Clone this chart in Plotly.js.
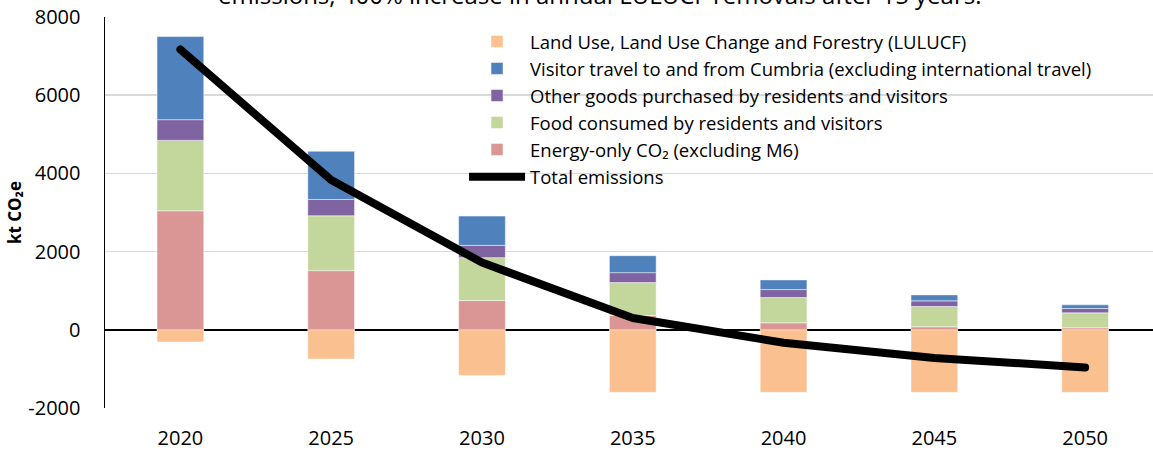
<!DOCTYPE html>
<html>
<head>
<meta charset="utf-8">
<script src="https://cdn.plot.ly/plotly-3.0.1.min.js"></script>
<style>
html,body{margin:0;padding:0;background:#fff;}
#chart{width:1153px;height:450px;}
#chart .scatterlayer .js-line{stroke-linecap:round;stroke-linejoin:round;}
</style>
</head>
<body>
<div id="chart"></div>
<script>
const years = ['2020','2025','2030','2035','2040','2045','2050'];
const energy = [3044, 1513, 748, 365, 179, 77, 51];
const food = [1800, 1403, 1097, 842, 646, 519, 383];
const otherGoods = [530, 418, 315, 255, 204, 144, 111];
const visitor = [2125, 1232, 748, 434, 247, 153, 93];
const lulucf = [-314, -748, -1166, -1600, -1600, -1600, -1600];
const total = [7170, 3830, 1720, 300, -330, -720, -962];
const yTickVals = [-2000, 0, 2000, 4000, 6000, 8000];
const yTickText = ['-2000', '0', '2000', '4000', '6000', '8000'];
const titleText = 'emissions, 400% increase in annual LULUCF removals after 15 years.';

const names = {
  lulucf: 'Land Use, Land Use Change and Forestry (LULUCF)',
  visitor: 'Visitor travel to and from Cumbria (excluding international travel)',
  other: 'Other goods purchased by residents and visitors',
  food: 'Food consumed by residents and visitors',
  energy: 'Energy-only CO\u2082 (excluding M6)',
  total: 'Total emissions'
};
const colors = {
  lulucf: '#FAC090', visitor: '#4F81BD', other: '#8064A2',
  food: '#C3D69B', energy: '#D99694', total: '#000000'
};

function bar(y, key, rank) {
  return {
    type: 'bar', x: years, y: y, name: names[key], legendrank: rank,
    marker: {color: colors[key], line: {color: 'rgba(255,255,255,0.6)', width: 0.8}},
    width: 0.31, hoverinfo: 'x+y+name'
  };
}

const traces = [
  bar(energy, 'energy', 5),
  bar(food, 'food', 4),
  bar(otherGoods, 'other', 3),
  bar(visitor, 'visitor', 2),
  bar(lulucf, 'lulucf', 1),
  {type: 'scatter', mode: 'lines', x: years, y: total, name: names.total, legendrank: 6,
   line: {color: colors.total, width: 8}}
];

const font = '"Open Sans", Lato, "Liberation Sans", sans-serif';
const layout = {
  width: 1153, height: 450,
  margin: {l: 105, r: 0, t: 17, b: 42, pad: 0},
  paper_bgcolor: '#ffffff', plot_bgcolor: '#ffffff',
  font: {family: font, color: '#000', size: 18},
  barmode: 'relative',
  showlegend: true,
  annotations: [{
    text: titleText, showarrow: false,
    xref: 'paper', yref: 'paper', x: 0.4714, y: 1.0588,
    xanchor: 'center', yanchor: 'middle',
    font: {family: font, size: 24, color: '#000'}
  }],
  legend: {
    x: 0.3426, y: 0.985, xanchor: 'left', yanchor: 'top',
    bgcolor: 'rgba(0,0,0,0)', borderwidth: 0,
    font: {family: font, size: 18.5, color: '#000'},
    traceorder: 'normal', itemwidth: 56
  },
  xaxis: {
    type: 'category', range: [-0.5, 6.45], showgrid: false, showline: false,
    zeroline: false, ticks: 'outside', ticklen: 12, tickcolor: 'rgba(0,0,0,0)',
    tickfont: {family: font, size: 20, color: '#000'}, fixedrange: true
  },
  yaxis: {
    range: [-2000, 8000], tickmode: 'array', tickvals: yTickVals, ticktext: yTickText,
    showgrid: true, gridcolor: '#d9d9d9', gridwidth: 1.5,
    zeroline: true, zerolinecolor: '#000', zerolinewidth: 2,
    showline: true, linecolor: '#000', linewidth: 1.5,
    ticks: 'outside', ticklen: 19, tickcolor: 'rgba(0,0,0,0)',
    tickfont: {family: font, size: 20, color: '#000'},
    title: {text: '<b>kt CO\u2082e</b>', font: {family: font, size: 17, color: '#000'}, standoff: 2},
    fixedrange: true
  }
};

Plotly.newPlot('chart', traces, layout, {displayModeBar: false, staticPlot: true});
</script>
</body>
</html>
